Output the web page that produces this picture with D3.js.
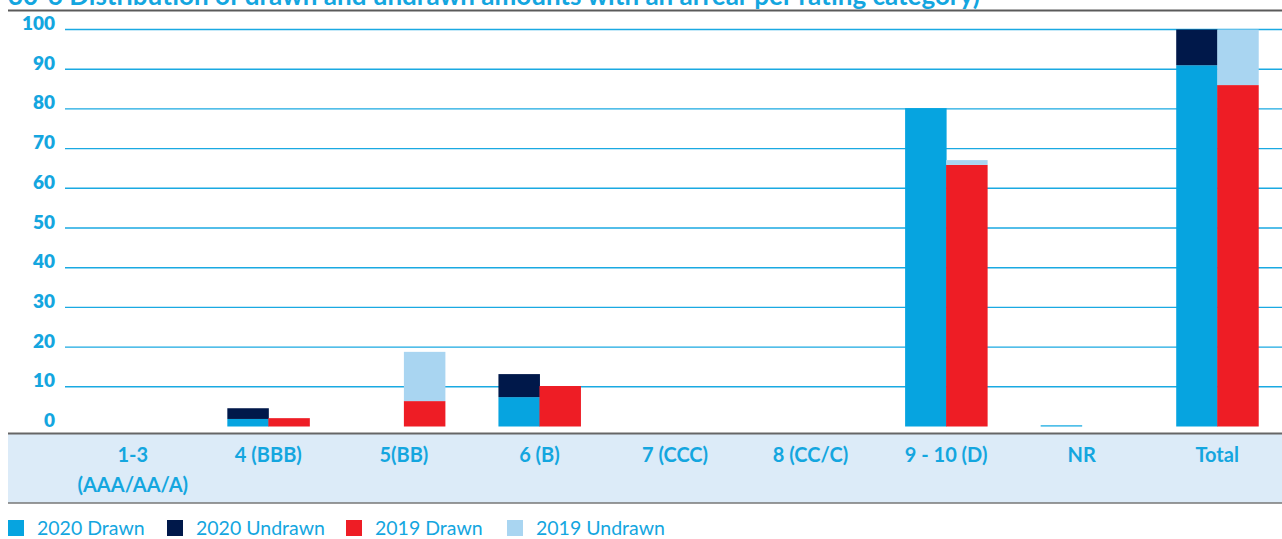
<!DOCTYPE html>
<html>
<head>
<meta charset="utf-8">
<script src="https://cdn.jsdelivr.net/npm/d3@7"></script>
<style>
  html, body { margin: 0; padding: 0; background: #ffffff; }
  svg { display: block; }
  text { font-family: Lato, "Open Sans", sans-serif; }
</style>
</head>
<body>
<svg id="chart" width="1282" height="539"></svg>
<script>
// Rating categories (each entry is the list of label lines)
const categories = [
  ["1-3", "(AAA/AA/A)"], ["4 (BBB)"], ["5(BB)"], ["6 (B)"], ["7 (CCC)"],
  ["8 (CC/C)"], ["9 - 10 (D)"], ["NR"], ["Total"]
];

// Percentages per category
const drawn2020   = [0, 1.9, 0,    7.4, 0, 0, 80.2, 0.3, 91.0];
const undrawn2020 = [0, 2.7, 0,    5.8, 0, 0, 0,    0,   9.0];
const drawn2019   = [0, 2.1, 6.4, 10.2, 0, 0, 65.9, 0,   86.0];
const undrawn2019 = [0, 0,  12.4,  0,   0, 0, 1.2,  0,   14.0];

const yTicks = [0, 10, 20, 30, 40, 50, 60, 70, 80, 90, 100];

const seriesNames = ["2020 Drawn", "2020 Undrawn", "2019 Drawn", "2019 Undrawn"];
const seriesColors = ["#06a4e0", "#00184a", "#ee1d25", "#a9d5f1"];

const titleText = "30-6 Distribution of drawn and undrawn amounts with an arrear per rating category)";

const blue = "#14a6df";
const svg = d3.select("#chart");

const x = d3.scaleBand()
  .domain(d3.range(categories.length))
  .range([65, 1285])
  .paddingInner(0.395)
  .paddingOuter(0.1975);

const y = d3.scaleLinear().domain([0, 100]).range([426.5, 29.5]);

// Title (runs off the top edge) and the rule beneath it
svg.append("text")
  .attr("x", 8).attr("y", 5)
  .attr("fill", blue)
  .attr("font-weight", 700)
  .attr("font-size", 26)
  .text(titleText);
svg.append("line")
  .attr("x1", 8).attr("x2", 1282).attr("y1", 10.5).attr("y2", 10.5)
  .attr("stroke", "#5a5a5a").attr("stroke-width", 2);

// Gridlines
svg.append("g")
  .selectAll("line")
  .data(yTicks.filter(d => d > 0))
  .join("line")
  .attr("x1", 65).attr("x2", 1282)
  .attr("y1", d => y(d)).attr("y2", d => y(d))
  .attr("stroke", "#1aa9e2").attr("stroke-width", 1.4);

// Y axis labels
const yAxis = d3.axisLeft(y).tickValues(yTicks).tickSize(0).tickPadding(0);
const yg = svg.append("g").attr("transform", "translate(55,0)").call(yAxis);
yg.select(".domain").remove();
yg.selectAll("text")
  .attr("fill", blue)
  .attr("font-size", 19)
  .attr("font-weight", 800)
  .attr("dy", 0)
  .attr("font-family", "Lato, sans-serif");

// Bars: two stacked columns per category
const half = x.bandwidth() / 2;
const groups = [
  { offset: 0,    parts: [[drawn2020, 0], [undrawn2020, 1]] },
  { offset: half, parts: [[drawn2019, 2], [undrawn2019, 3]] }
];
const barsG = svg.append("g");
groups.forEach(g => {
  categories.forEach((c, i) => {
    let base = 0;
    g.parts.forEach(([arr, si]) => {
      const v = arr[i];
      if (v > 0) {
        barsG.append("rect")
          .attr("x", x(i) + g.offset)
          .attr("width", half + 0.5)
          .attr("y", y(base + v))
          .attr("height", y(base) - y(base + v))
          .attr("fill", seriesColors[si]);
      }
      base += v;
    });
  });
});

// Category band
svg.append("rect")
  .attr("x", 8).attr("y", 433).attr("width", 1274).attr("height", 70)
  .attr("fill", "#dcebf8");
svg.append("line")
  .attr("x1", 8).attr("x2", 1282).attr("y1", 433.5).attr("y2", 433.5)
  .attr("stroke", "#666666").attr("stroke-width", 2);
svg.append("line")
  .attr("x1", 8).attr("x2", 1282).attr("y1", 503).attr("y2", 503)
  .attr("stroke", "#777777").attr("stroke-width", 1.5);

// Category labels
const xl = svg.append("g");
categories.forEach((lines, i) => {
  const t = xl.append("text")
    .attr("x", x(i) + x.bandwidth() / 2)
    .attr("y", 462)
    .attr("text-anchor", "middle")
    .attr("fill", blue)
    .attr("font-size", 20)
    .attr("font-weight", 700);
  lines.forEach((l, k) => {
    t.append("tspan")
      .attr("x", x(i) + x.bandwidth() / 2)
      .attr("dy", k === 0 ? 0 : 30)
      .text(l);
  });
});

// Legend
const legendX = [8, 167, 346, 507];
const lg = svg.append("g");
seriesNames.forEach((name, i) => {
  lg.append("rect")
    .attr("x", legendX[i]).attr("y", 520)
    .attr("width", 16).attr("height", 16)
    .attr("fill", seriesColors[i]);
  lg.append("text")
    .attr("x", legendX[i] + 29).attr("y", 535)
    .attr("fill", blue)
    .attr("font-size", 19.5)
    .text(name);
});
</script>
</body>
</html>
